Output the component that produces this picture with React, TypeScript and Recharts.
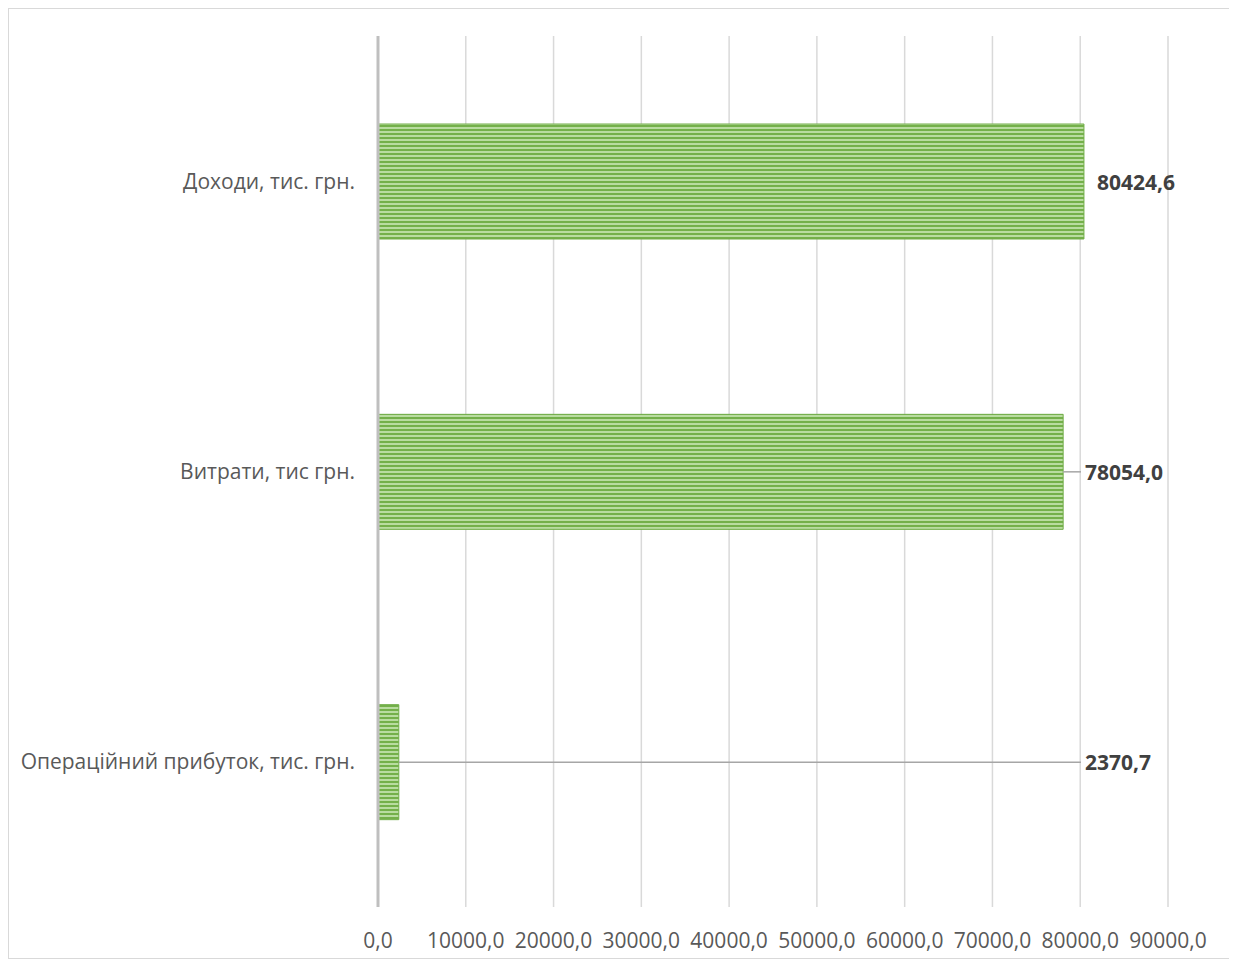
import React from "react";
import {
  Bar,
  BarChart,
  CartesianGrid,
  LabelList,
  XAxis,
  YAxis,
} from "recharts";

// categories & values (тис. грн.)
const categories = [
  "Доходи, тис. грн.",
  "Витрати, тис грн.",
  "Операційний прибуток, тис. грн.",
];
const values = [80424.6, 78054.0, 2370.7];
const xTicks = [0, 10000, 20000, 30000, 40000, 50000, 60000, 70000, 80000, 90000];

// where the data labels are lined up (in axis units)
const LABEL_POS = 80200;

const FONT = "'Open Sans', sans-serif";

const data = categories.map((name, i) => ({ name, value: values[i] }));

const fmt = (v: number) => v.toFixed(1).replace(".", ",");

const BarLabel = (props: any) => {
  const { x, y, width, height, value } = props;
  const end = x + width;
  const perUnit = width / value;
  const anchor = x + LABEL_POS * perUnit;
  const cy = y + height / 2;
  const textX = Math.max(end + 13, anchor + 3);
  const showLine = textX - end > 20;
  return (
    <g>
      {showLine && (
        <line x1={end} y1={cy} x2={textX - 4} y2={cy} stroke="#a6a6a6" strokeWidth={1.5} />
      )}
      <text
        x={textX}
        y={cy}
        dominantBaseline="central"
        fontFamily={FONT}
        fontWeight="bold"
        fontSize={21}
        fill="#404040"
      >
        {fmt(value)}
      </text>
    </g>
  );
};

export default function App() {
  return (
    <div
      style={{
        width: 1220,
        height: 949,
        border: "1px solid #d9d9d9",
        background: "#fff",
      }}
    >
      <BarChart
        width={1220}
        height={949}
        data={data}
        layout="vertical"
        margin={{ top: 27, right: 61, bottom: 6, left: 0 }}
      >
        <defs>
          <pattern id="hstripes" width="6" height="4" patternUnits="userSpaceOnUse">
            <rect x="0" y="0" width="6" height="4" fill="#b9dca0" />
            <rect x="0" y="0" width="6" height="2" fill="#74b04a" />
          </pattern>
        </defs>
        <CartesianGrid horizontal={false} stroke="#d9d9d9" strokeWidth={1.5} />
        <XAxis
          type="number"
          domain={[0, 90000]}
          ticks={xTicks}
          tickFormatter={fmt}
          axisLine={false}
          tickLine={false}
          tickSize={0}
          tickMargin={26}
          height={45}
          tick={{ fontFamily: FONT, fontSize: 21, fill: "#595959" }}
          interval={0}
        />
        <YAxis
          type="category"
          dataKey="name"
          width={369}
          axisLine={{ stroke: "#bfbfbf", strokeWidth: 3 }}
          tickLine={false}
          tickSize={0}
          tickMargin={23}
          tick={{ fontFamily: FONT, fontSize: 21, fill: "#595959" }}
        />
        <Bar
          dataKey="value"
          barSize={115}
          fill="url(#hstripes)"
          stroke="#70ad47"
          strokeWidth={1}
          isAnimationActive={false}
        >
          <LabelList dataKey="value" content={<BarLabel />} />
        </Bar>
      </BarChart>
    </div>
  );
}
